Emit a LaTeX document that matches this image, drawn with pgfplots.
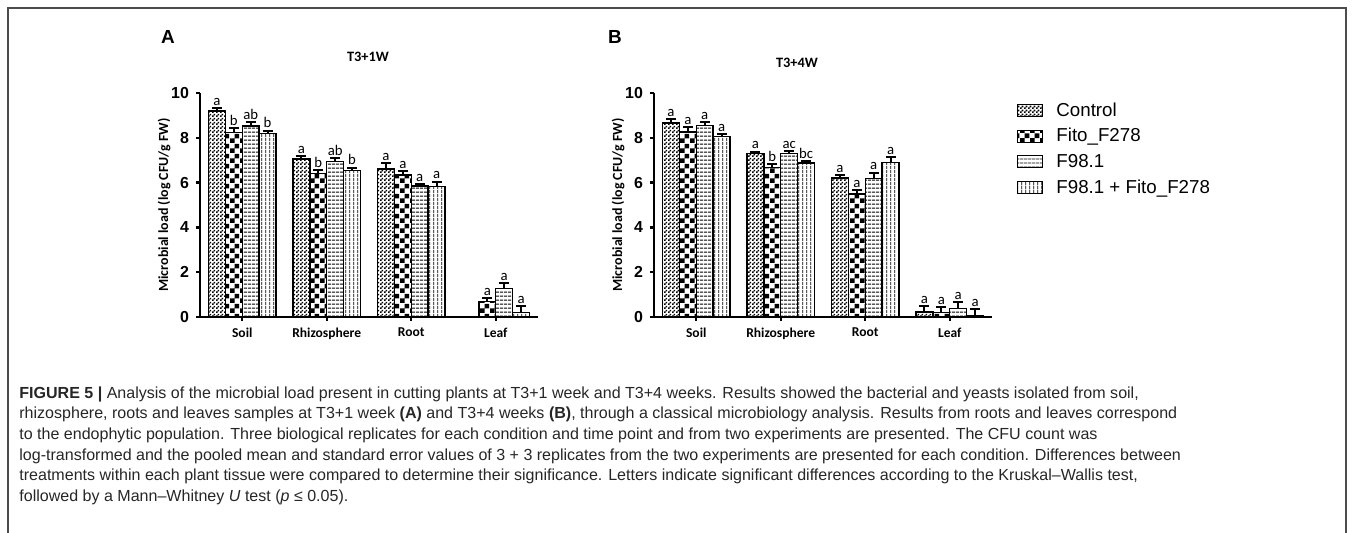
\documentclass[border=0pt]{standalone}
\usepackage{pgfplots}
\pgfplotsset{compat=1.18}
\usepackage{pgfplotstable}
\usepackage{fontspec}
\setmainfont{Liberation Sans}
\newfontfamily\carlito{Carlito}
\usetikzlibrary{patterns}

% bar fills
\pgfdeclarepatternformonly{finecheck}{\pgfpointorigin}{\pgfqpoint{2bp}{2bp}}{\pgfqpoint{2bp}{2bp}}%
{\pgfpathrectangle{\pgfpointorigin}{\pgfqpoint{1bp}{1bp}}\pgfpathrectangle{\pgfqpoint{1bp}{1bp}}{\pgfqpoint{1bp}{1bp}}\pgfusepath{fill}}
\pgfdeclarepatternformonly{bigcheck}{\pgfpointorigin}{\pgfqpoint{5bp}{5bp}}{\pgfqpoint{5bp}{5bp}}%
{\pgfpathrectangle{\pgfpointorigin}{\pgfqpoint{2.5bp}{2.5bp}}\pgfpathrectangle{\pgfqpoint{2.5bp}{2.5bp}}{\pgfqpoint{2.5bp}{2.5bp}}\pgfusepath{fill}}
\pgfdeclarepatternformonly{hlines}{\pgfpointorigin}{\pgfqpoint{2bp}{2.2bp}}{\pgfqpoint{2bp}{2.2bp}}%
{\pgfsetlinewidth{0.5bp}\pgfpathmoveto{\pgfqpoint{0bp}{1.1bp}}\pgfpathlineto{\pgfqpoint{2bp}{1.1bp}}\pgfusepath{stroke}}
\pgfdeclarepatternformonly{vlines}{\pgfpointorigin}{\pgfqpoint{2.1bp}{2bp}}{\pgfqpoint{2.1bp}{2bp}}%
{\pgfsetlinewidth{0.5bp}\pgfpathmoveto{\pgfqpoint{1.05bp}{0bp}}\pgfpathlineto{\pgfqpoint{1.05bp}{2bp}}\pgfusepath{stroke}}

% T3+1W: mean, s.e., letter for Control (c), Fito_F278 (f), F98.1 (g), F98.1 + Fito_F278 (h)
\pgfplotstableread{
x c ce cl f fe fl g ge gl h he hl
0 9.20 0.14 a 8.24 0.18 b 8.53 0.17 ab 8.20 0.12 b
1 7.05 0.12 a 6.41 0.15 b 6.95 0.15 ab 6.55 0.12 b
2 6.60 0.26 a 6.34 0.19 a 5.85 0.09 a 5.82 0.22 a
3 0.00 0.00 {} 0.70 0.16 a 1.26 0.27 a 0.19 0.30 a
}\dataA
% T3+4W
\pgfplotstableread{
x c ce cl f fe fl g ge gl h he hl
0 8.66 0.19 a 8.26 0.20 a 8.55 0.15 a 8.05 0.13 a
1 7.29 0.09 a 6.68 0.16 b 7.29 0.10 ac 6.87 0.08 bc
2 6.20 0.15 a 5.49 0.16 a 6.17 0.28 a 6.90 0.24 a
3 0.22 0.25 a 0.20 0.24 a 0.38 0.27 a 0.07 0.30 a
}\dataB

\pgfplotsset{
  panel/.style={
    scale only axis, width=169bp, height=112bp, anchor=south west,
    xmin=-0.5, xmax=3.5, ymin=0, ymax=10,
    axis x line*=bottom, axis y line*=left,
    axis line style={line width=1.2bp},
    xtick={0,1,2,3}, xticklabels={Soil,Rhizosphere,Root,Leaf},
    ytick={0,2,...,10},
    tick align=outside, major tick length=2bp,
    tick style={line width=1.2bp, black},
    /pgf/number format/assume math mode=true,
    yticklabel style={font=\bfseries\fontsize{8}{9}\selectfont},
    xticklabel style={font=\carlito\bfseries\fontsize{6.8}{8}\selectfont},
    ylabel={Microbial load (log CFU/g FW)},
    ylabel style={font=\carlito\bfseries\fontsize{7}{8}\selectfont},
    ylabel shift=-6.5bp,
    clip=false,
  },
  bars/.style={ybar, bar width=0.2, bar shift=#1, draw=black, line width=0.7bp,
    legend image code/.code={\draw[##1, line width=0.5bp] (0bp,-3bp) rectangle (12.5bp,3bp);}},
  errs/.style={draw=none, mark=none, forget plot,
    error bars/y dir=plus, error bars/y explicit,
    error bars/error bar style={line width=1bp, draw=black},
    error bars/error mark options={rotate=90, mark size=2.5bp, line width=1bp, draw=black}},
  letters/.style={draw=none, mark=none, forget plot, nodes near coords,
    point meta=explicit symbolic,
    nodes near coords style={font=\carlito\fontsize{7.4}{8}\selectfont, anchor=south, inner sep=0.3bp, yshift=0.8bp}},
}

\begin{document}
\begin{tikzpicture}
\useasboundingbox (0bp,0bp) rectangle (678.5bp,266.5bp);
\draw[line width=0.8bp, black!70] (4bp,0bp) -- (4bp,262.5bp) -- (673bp,262.5bp) -- (673bp,0bp);

\node[font=\bfseries\fontsize{9.5}{11}\selectfont] at (84bp,248bp) {A};
\node[font=\bfseries\fontsize{9.5}{11}\selectfont] at (307.5bp,248bp) {B};
\node[font=\carlito\bfseries\fontsize{7.2}{8}\selectfont] at (184bp,238bp) {T3+1W};
\node[font=\carlito\bfseries\fontsize{7.2}{8}\selectfont] at (398.5bp,235bp) {T3+4W};

\begin{axis}[panel, at={(100bp,108bp)}]
  \addplot[pattern=finecheck, bars=-0.3] table[x=x, y=c] {\dataA};
  \addplot[pattern=bigcheck, bars=-0.1] table[x=x, y=f] {\dataA};
  \addplot[pattern=hlines, bars=0.1] table[x=x, y=g] {\dataA};
  \addplot[pattern=vlines, bars=0.3] table[x=x, y=h] {\dataA};
  \addplot[errs] table[x expr=\thisrow{x}-0.3, y=c, y error=ce] {\dataA};
  \addplot[errs] table[x expr=\thisrow{x}-0.1, y=f, y error=fe] {\dataA};
  \addplot[errs] table[x expr=\thisrow{x}+0.1, y=g, y error=ge] {\dataA};
  \addplot[errs] table[x expr=\thisrow{x}+0.3, y=h, y error=he] {\dataA};
  \addplot[letters] table[x expr=\thisrow{x}-0.3, y expr=\thisrow{c}+\thisrow{ce}, meta=cl] {\dataA};
  \addplot[letters] table[x expr=\thisrow{x}-0.1, y expr=\thisrow{f}+\thisrow{fe}, meta=fl] {\dataA};
  \addplot[letters] table[x expr=\thisrow{x}+0.1, y expr=\thisrow{g}+\thisrow{ge}, meta=gl] {\dataA};
  \addplot[letters] table[x expr=\thisrow{x}+0.3, y expr=\thisrow{h}+\thisrow{he}, meta=hl] {\dataA};
\end{axis}

\begin{axis}[panel, at={(327bp,108bp)},
  legend style={at={(1.074,0.965)}, anchor=north west, draw=none, fill=none,
    font=\fontsize{9.4}{11}\selectfont, inner sep=0bp, row sep=3.3bp, column sep=6.5bp,
    nodes={inner sep=0bp, text height=7.5bp, text depth=2bp}},
  legend cell align=left]
  \addplot[pattern=finecheck, bars=-0.3] table[x=x, y=c] {\dataB};
  \addplot[pattern=bigcheck, bars=-0.1] table[x=x, y=f] {\dataB};
  \addplot[pattern=hlines, bars=0.1] table[x=x, y=g] {\dataB};
  \addplot[pattern=vlines, bars=0.3] table[x=x, y=h] {\dataB};
  \addplot[errs] table[x expr=\thisrow{x}-0.3, y=c, y error=ce] {\dataB};
  \addplot[errs] table[x expr=\thisrow{x}-0.1, y=f, y error=fe] {\dataB};
  \addplot[errs] table[x expr=\thisrow{x}+0.1, y=g, y error=ge] {\dataB};
  \addplot[errs] table[x expr=\thisrow{x}+0.3, y=h, y error=he] {\dataB};
  \addplot[letters] table[x expr=\thisrow{x}-0.3, y expr=\thisrow{c}+\thisrow{ce}, meta=cl] {\dataB};
  \addplot[letters] table[x expr=\thisrow{x}-0.1, y expr=\thisrow{f}+\thisrow{fe}, meta=fl] {\dataB};
  \addplot[letters] table[x expr=\thisrow{x}+0.1, y expr=\thisrow{g}+\thisrow{ge}, meta=gl] {\dataB};
  \addplot[letters] table[x expr=\thisrow{x}+0.3, y expr=\thisrow{h}+\thisrow{he}, meta=hl] {\dataB};
  \legend{Control, Fito\_F278, F98.1, F98.1 + Fito\_F278}
\end{axis}

\node[anchor=north west, align=left, inner sep=0, text=black!85,
  font=\fontsize{8.05}{10.4}\selectfont] at (9.5bp,73.5bp) {%
\textbf{FIGURE 5 |} Analysis of the microbial load present in cutting plants at T3+1 week and T3+4 weeks. Results showed the bacterial and yeasts isolated from soil,\\
rhizosphere, roots and leaves samples at T3+1 week \textbf{(A)} and T3+4 weeks \textbf{(B)}, through a classical microbiology analysis. Results from roots and leaves correspond\\
to the endophytic population. Three biological replicates for each condition and time point and from two experiments are presented. The CFU count was\\
log-transformed and the pooled mean and standard error values of 3 + 3 replicates from the two experiments are presented for each condition. Differences between\\
treatments within each plant tissue were compared to determine their significance. Letters indicate significant differences according to the Kruskal–Wallis test,\\
followed by a Mann–Whitney \textit{U} test (\textit{p} ≤ 0.05).};
\end{tikzpicture}
\end{document}
